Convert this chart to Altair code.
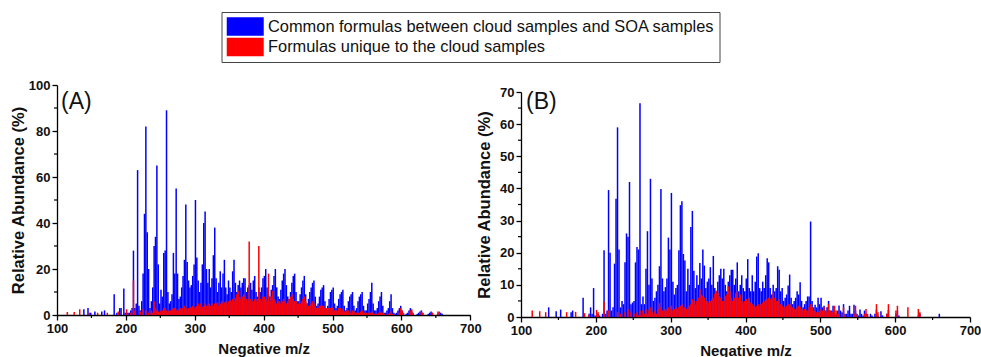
import altair as alt
import pandas as pd

COMMON = "Common formulas between cloud samples and SOA samples"
UNIQUE = "Formulas unique to the cloud samples"

# ---- Panel A: common formulas (blue), odd m/z starting at 131 ----
A_BLUE_START = 131
A_BLUE = [
    0, 0, 0, 0, 2.5, 0, 0, 3, 0, 1,
    0, 0, 1.5, 0, 0, 0, 0, 1.5, 0, 2,
    0, 0, 0, 0, 0,
    0, 9, 0, 1, 0, 3, 3, 0, 11.5, 1,
    0, 1, 1, 2, 3, 28, 3, 5, 63, 4,
    2, 6, 18, 44, 82, 36, 20, 3, 6, 12,
    30, 34, 65, 22, 5, 11, 8, 27, 28, 89,
    10, 5, 6, 9, 27, 18, 55, 18, 7, 8,
    12, 17, 24, 48, 23, 15, 12, 13, 17, 22,
    50, 25, 15, 10, 14, 22, 40, 45, 20, 14,
    20, 12, 16, 26, 38, 16, 10, 14, 19, 12,
    18, 24, 12, 9, 15, 12, 10, 19, 24, 14,
    10, 13, 15, 12, 14, 16, 16, 10, 12, 13,
    14, 11, 15, 17, 10, 8, 12, 10, 12, 16,
    17, 20, 12, 9, 8, 11, 13, 17, 20, 12,
    8, 7, 11, 15, 18, 20, 13, 8, 7, 10,
    14, 17, 18, 10, 6, 6, 9, 12, 15, 17,
    9, 5, 7, 10, 12, 14, 15, 8, 4, 5,
    8, 11, 12, 13, 6, 3, 4, 7, 10, 11,
    12, 5, 3, 4, 7, 9, 10, 11, 4, 2,
    3, 6, 8, 9, 10, 4, 2, 3, 6, 8,
    9, 10, 4, 2, 2, 5, 7, 10, 14, 5,
    2, 2, 3, 6, 8, 10, 4, 1, 1, 2,
    3, 6, 9, 3, 1, 0.5, 1, 2, 3, 4,
    2, 0.5, 0, 0.5, 1, 2, 3, 1.5, 0.5, 0,
    0, 0.5, 1, 1.5, 2, 1, 0, 0, 0, 0.5,
    1, 1.5, 1, 0, 0, 0, 0.5, 1, 1, 0.5, 0,
]

# ---- Panel A: unique formulas (red), odd m/z starting at 111 ----
A_RED_START = 111
A_RED = [
    0, 0, 1.3, 0, 0, 0, 0, 1.3, 0, 0,
    0, 2.5, 0, 0, 0, 0, 0, 0, 1, 0,
    0, 0, 0, 0, 1, 0, 0, 0, 0, 0,
    0, 1, 0, 0, 0, 0, 0, 0, 0, 1.5,
    0, 0, 0, 0, 0, 2.5, 0, 0, 1, 0,
    15, 2, 0, 0, 0, 1.5, 0, 2.5, 0, 2,
    0, 1, 0, 2, 1, 6, 3, 2, 1.5, 1,
    2, 2, 3, 3, 2, 1.5, 2, 2, 2.5, 3,
    3, 2, 2.5, 2, 3, 2.5, 3, 4, 3, 2.5,
    3, 3, 3.5, 4, 3, 3.5, 4, 5, 4, 5,
    3.5, 4, 5, 4, 4.5, 5, 4, 5, 4, 5,
    5, 5.5, 4, 5, 6, 5, 5.5, 6, 5, 6,
    6.5, 6, 7, 6, 7.5, 9, 10.5, 8, 7, 8,
    9, 8, 7, 6, 32, 7, 6, 6, 7, 6,
    7, 30, 7, 6, 8, 8, 7, 6, 18, 6,
    8, 10.5, 7, 6, 5, 6, 6, 5, 6, 7,
    6, 5, 6, 7, 8, 9, 7, 6, 6, 5,
    5, 5, 6, 7, 8, 6, 5, 4, 4, 5,
    6, 5, 4, 3, 3, 4, 4, 4, 4, 3,
    3, 3, 3, 3, 3.5, 3, 2, 2, 2, 3,
    3, 2, 2.5, 1.5, 1.5, 2, 2, 1, 1, 2,
    1.5, 1, 1, 1, 1, 1.5, 2, 1, 1, 1,
    0.5, 1, 1, 1.5, 1, 0.5, 0.5, 0.5, 1, 1,
    1.5, 1, 0.5, 0, 0, 0.5, 1, 1.5, 0.5, 0,
    0, 0, 0, 1, 3, 2, 1, 0, 0, 0,
    0, 2, 2.5, 1, 0, 0, 0, 0, 0, 1.5,
    1, 0, 0, 0, 0, 0, 0, 1, 0, 0,
    0, 1.5, 1.5, 0, 0,
]

# ---- Panel B: common formulas (blue), odd m/z starting at 131 ----
B_BLUE_START = 131
B_BLUE = [
    0, 0, 0, 3, 0, 0, 0, 0, 1.8, 0,
    0, 2.3, 0, 0, 0, 0, 0, 0, 1.5, 2,
    0, 0, 0, 0, 0,
    0, 6, 0, 0, 0, 1, 3, 1, 9, 0.5,
    0, 1, 0.5, 0, 1, 20.8, 1, 2, 39.5, 20,
    2, 3, 16.6, 36.8, 59, 21, 3, 5, 4, 17,
    26, 25, 42, 4, 4.5, 5, 17, 21.8, 21, 66.5,
    4, 6.4, 4, 15, 26.7, 10, 43, 12, 5, 6,
    8, 10, 15.8, 39.8, 12, 8, 9.3, 12, 24.7, 21,
    38.6, 11, 7, 9, 10, 20.8, 34.8, 36, 19.6, 17.6,
    8, 15, 10, 28, 33, 14.4, 9, 13, 10, 16.8,
    12, 21, 16, 9, 11, 12, 15.5, 10, 19, 9,
    8, 11, 13, 15, 12, 15, 10, 8, 11, 13,
    14.7, 14.7, 10, 12, 17, 8, 10, 13, 9, 8,
    12, 18, 9, 8, 13, 8, 11, 18.8, 19.8, 9,
    8, 11, 9, 13, 18.3, 17, 9, 7, 10, 8,
    9, 15.8, 14.7, 8, 9, 5, 6, 7, 9.8, 13.2,
    6, 4, 5, 6, 8, 7, 10.8, 5, 3, 4,
    5, 6.4, 6.4, 29.7, 5, 3, 3.8, 3, 6, 4,
    6, 3, 3.5, 2, 3, 5, 2, 2, 3.5, 1,
    1, 2, 3.6, 2, 1.5, 4, 1, 1, 2, 3.5,
    1, 1, 3.8, 2, 1, 0.5, 2.3, 1, 0.5, 2,
    1, 0.5, 0, 1, 0.5, 0, 1, 2.3, 0.5, 0,
    1.8, 0.5, 0, 0, 1, 2.2, 0, 0, 0, 0,
    1, 2, 0.5, 0, 0, 0, 0, 0, 0, 0,
    0, 0, 0, 0, 0, 0.5, 1.1, 0, 0, 0,
    0, 0, 0, 0, 0, 0, 0, 0, 0, 1, 0,
]

# ---- Panel B: unique formulas (red), odd m/z starting at 111 ----
B_RED_START = 111
B_RED = [
    0, 0, 2, 0, 0, 0, 0, 1.8, 0, 0,
    0, 1.5, 0, 0, 0, 0, 0, 0, 0, 0,
    0, 0, 0, 0, 0, 1.5, 0, 0, 0, 0,
    0, 1.6, 0, 0, 0, 0, 0, 1.2, 0, 0,
    0.8, 0, 0, 0, 0, 2.2, 1.5, 0, 0, 0,
    4.8, 0, 0, 2, 0, 0, 0, 0, 0, 1.5,
    0, 1, 0, 0, 1.5, 0, 2.5, 0, 1.5, 0,
    1, 0, 1.5, 0.5, 2, 0.5, 2, 1, 2.5, 1,
    2, 3, 1.5, 1, 2, 1, 2.5, 4.3, 3, 2,
    2, 2.5, 2, 3, 2.5, 3.5, 2, 2.5, 3, 2.5,
    3, 3.5, 4, 3, 3, 2.5, 3, 3.5, 4, 5.6,
    5, 4, 5, 6, 8.7, 7, 6.6, 6, 5, 5,
    4.5, 5, 5.5, 6, 7.2, 8.2, 7.5, 6.5, 6, 5,
    5, 6.5, 7, 9.5, 8, 6, 5, 6, 7.5, 8,
    6, 7, 5, 4.5, 5, 5.6, 5, 6, 4.5, 4,
    3.5, 3, 3.5, 4, 3.5, 4, 4.5, 5, 5.5, 5.5,
    6, 5.5, 6, 7.7, 6, 5, 5, 5.5, 4, 3.5,
    3, 3, 3.5, 4, 4, 3.5, 3, 2.5, 2.5, 3,
    3.5, 3, 2.5, 2, 2.5, 2, 2, 3, 4, 3,
    2, 2, 1.5, 1.5, 2, 2.5, 2, 3, 2, 1.5,
    4, 2, 1.5, 1.5, 3.5, 2, 1, 1, 0, 0,
    3, 0.5, 0, 0, 0, 0, 0, 1, 3.5, 0.5,
    0, 0, 0, 0, 1, 2.5, 1, 0, 0, 0,
    0, 0, 4, 1.5, 0, 0, 0, 0, 0, 1,
    4, 0, 0, 0, 0, 2, 3.5, 0, 0, 0,
    0, 0, 0, 3, 0, 0, 0, 0, 0, 0,
    2.5, 1.5,
]

X_TICKS = [100, 200, 300, 400, 500, 600, 700]
X_MINOR = [150, 250, 350, 450, 550, 650]
A_Y_TICKS = [0, 20, 40, 60, 80, 100]
A_Y_MINOR = [10, 30, 50, 70, 90]
B_Y_TICKS = [0, 10, 20, 30, 40, 50, 60, 70]
B_Y_MINOR = [5, 15, 25, 35, 45, 55, 65]

FONT = "Liberation Sans"
BAR_W = 1.5


def frame(start, vals, series):
    mz = [start + 2 * i for i in range(len(vals))]
    df = pd.DataFrame({"mz": mz, "ab": vals, "series": series})
    return df[df["ab"] > 0]


color = alt.Color(
    "series:N",
    scale=alt.Scale(domain=[COMMON, UNIQUE], range=["#0000ff", "#ff0000"]),
    legend=alt.Legend(
        title=None,
        orient="none",
        direction="vertical",
        legendX=164.5,
        legendY=-73,
        padding=5,
        strokeColor="#444444",
        fillColor="white",
        labelFont=FONT,
        labelFontSize=16.4,
        labelColor="#111111",
        labelOffset=22.5,
        labelLimit=600,
        symbolType="M-1,-1H3V1H-1Z",
        symbolSize=342,
        symbolStrokeWidth=0,
        symbolOpacity=1,
        rowPadding=1.5,
    ),
)


def panel(blue, red, ymax, yticks, yminor, width, height, yrange, label, lx, ly, tpad):
    x = alt.X(
        "mz:Q",
        scale=alt.Scale(domain=[100, 700], nice=False, zero=False, padding=0),
        axis=alt.Axis(values=X_TICKS, title="Negative m/z", titlePadding=6,
                      titleFontSize=15),
    )
    y = alt.Y(
        "ab:Q",
        scale=alt.Scale(domain=[0, ymax], nice=False, range=yrange),
        axis=alt.Axis(values=yticks, title="Relative Abundance (%)",
                      titlePadding=tpad, titleFontSize=16.5),
    )
    bb = alt.Chart(blue).mark_bar(width=BAR_W).encode(x=x, y=y, y2=alt.datum(0), color=color)
    rr = alt.Chart(red).mark_bar(width=BAR_W).encode(x=x, y=y, y2=alt.datum(0), color=color)
    my = alt.Chart(pd.DataFrame({"ab": yminor})).mark_rule(color="black", strokeWidth=1.2).encode(
        y=y, x=alt.value(0), x2=alt.value(-3)
    )
    mx = alt.Chart(pd.DataFrame({"mz": X_MINOR})).mark_rule(color="black", strokeWidth=1.2).encode(
        x=x, y=alt.value(height), y2=alt.value(height + 3)
    )
    txt = alt.Chart(pd.DataFrame({"t": [label]})).mark_text(
        align="left", baseline="middle", font=FONT, fontSize=23, color="#111111"
    ).encode(text="t:N", x=alt.value(lx), y=alt.value(ly))
    return alt.layer(bb, rr, my, mx, txt).properties(width=width, height=height)


pa = panel(frame(A_BLUE_START, A_BLUE, COMMON), frame(A_RED_START, A_RED, UNIQUE),
           100, A_Y_TICKS, A_Y_MINOR, 413.3, 230, [230, 0], "(A)", 4, 16.5, 1.5)
pb = panel(frame(B_BLUE_START, B_BLUE, COMMON), frame(B_RED_START, B_RED, UNIQUE),
           70, B_Y_TICKS, B_Y_MINOR, 449, 232, [232, 7], "(B)", 5, 17, 7.5)

chart = (
    alt.hconcat(pa, pb, spacing=50, bounds="flush")
    .properties(padding={"left": 10, "top": 11, "right": 0, "bottom": 0})
    .configure_view(stroke=None)
    .configure_axis(
        grid=False,
        labelFlush=False,
        domainColor="black",
        domainWidth=1.3,
        tickColor="black",
        tickWidth=1.3,
        tickSize=5,
        labelPadding=2,
        labelFont=FONT,
        labelFontWeight="bold",
        labelFontSize=13,
        labelColor="#111111",
        titleFont=FONT,
        titleFontWeight="bold",
        titleColor="#111111",
    )
)

chart.save("out.html", embed_options={"renderer": "svg", "actions": False})
